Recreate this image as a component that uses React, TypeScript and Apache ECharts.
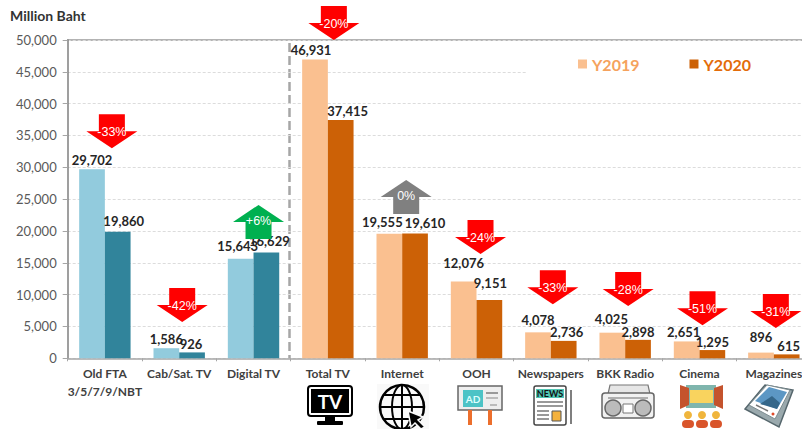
import React, { useEffect, useRef } from "react";
import * as echarts from "echarts";

const FONT = "Lato, 'Open Sans', sans-serif";
const categories = ["Old FTA\n3/5/7/9/NBT", "Cab/Sat. TV", "Digital TV", "Total TV", "Internet", "OOH", "Newspapers", "BKK Radio", "Cinema", "Magazines"];
const y2019 = [29702, 1586, 15643, 46931, 19555, 12076, 4078, 4025, 2651, 896];
const y2020 = [19860, 926, 16629, 37415, 19610, 9151, 2736, 2898, 1295, 615];
const changes = ["-33%", "-42%", "+6%", "-20%", "0%", "-24%", "-33%", "-28%", "-51%", "-31%"];
const arrowTips = [33000, 5700, 24100, 50000, 28000, 16400, 8500, 8200, 5200, 4750];
const arrowShiftX = [7, 3, 5, 6, 4, 4, 2, 3, 3, 2];
const labelShift2019 = [[0, 0], [0, 0], [-3, -3], [-4, 0], [-7, -2], [0, -9], [0, -3], [-1, -4], [-3, 0], [0, -6]];
const labelShift2020 = [[6, -1], [-1, 1], [3, -2], [7, 0], [10, -1], [1, -8], [3, 1], [0, 2], [0, 1], [2, 1]];
const blueLight = "#92cbdd";
const blueDark = "#31849b";
const orangeLight = "#fac090";
const orangeDark = "#cc6106";

const rect = (x: number, y: number, w: number, h: number, fill: string, extra: any = {}) => ({
  type: "rect", shape: { x, y, width: w, height: h, r: extra.r || 0 },
  style: { fill, stroke: extra.stroke, lineWidth: extra.lw || 0 }, silent: true,
});
const line = (x1: number, y1: number, x2: number, y2: number, stroke: string, lineWidth = 1, lineDash?: number[]) => ({
  type: "line", shape: { x1, y1, x2, y2 }, style: { stroke, lineWidth, lineDash }, silent: true,
});
const circle = (cx: number, cy: number, r: number, fill: string, stroke?: string, lineWidth = 0) => ({
  type: "circle", shape: { cx, cy, r }, style: { fill, stroke, lineWidth }, silent: true,
});
const poly = (points: number[][], fill: string, stroke?: string, lineWidth = 0) => ({
  type: "polygon", shape: { points }, style: { fill, stroke, lineWidth }, silent: true,
});
const label = (x: number, y: number, text: string, size: number, fill: string) => ({
  type: "text", x, y, silent: true,
  style: { text, fontSize: size, fontWeight: "bold", fontFamily: FONT, fill, align: "center", verticalAlign: "middle" },
});

const tvIcon = [
  rect(308, 386, 44, 30, "#fff", { stroke: "#000", lw: 2, r: 3 }),
  rect(311, 389, 38, 24, "#000"),
  label(330, 401, "TV", 19, "#fff"),
  rect(325, 417, 10, 4, "#000"),
  rect(317, 421, 26, 4, "#000", { r: 1 }),
];
const globeIcon = [
  rect(377, 384, 52, 45, "#f9f9f9"),
  circle(402, 407, 22, "none", "#000", 2.5),
  { type: "ellipse", shape: { cx: 402, cy: 407, rx: 10, ry: 22 }, style: { fill: "none", stroke: "#000", lineWidth: 2 }, silent: true },
  line(402, 385, 402, 429, "#000", 2),
  line(380, 407, 424, 407, "#000", 2),
  line(384, 395, 420, 395, "#000", 2),
  line(384, 419, 420, 419, "#000", 2),
  poly([[408, 411], [423, 417], [418, 420], [425, 427], [421, 429], [415, 423], [411, 427]], "#000", "#f9f9f9", 1.5),
];
const adIcon = [
  rect(458, 386, 44, 24, "#eeeeee", { stroke: "#666", lw: 1.5 }),
  rect(463, 390, 20, 17, "#4cc3c6"),
  label(473, 399, "AD", 10, "#dff"),
  line(486, 393, 498, 393, "#999", 2),
  line(486, 398, 498, 398, "#bbb", 2),
  line(490, 405, 497, 405, "#aaa", 1.5),
  rect(468, 410, 4, 15, "#ec6f2d"),
  rect(488, 410, 4, 15, "#ec6f2d"),
];
const newsIcon = [
  line(571, 390, 571, 424, "#555", 1.5),
  rect(534, 386, 32, 39, "#fff", { stroke: "#444", lw: 1.5, r: 2 }),
  rect(536, 389, 28, 9, "#52c6b4"),
  label(550, 393.5, "NEWS", 9, "#111"),
  line(537, 402, 563, 402, "#777", 1.5),
  line(537, 406, 563, 406, "#777", 1.5),
  line(537, 411, 549, 411, "#777", 1.5),
  line(537, 415, 549, 415, "#777", 1.5),
  line(537, 419, 549, 419, "#777", 1.5),
  rect(552, 411, 9, 10, "#f4b23e", { stroke: "#555", lw: 1 }),
];
const radioIcon = [
  poly([[608, 394], [610, 385], [648, 385], [650, 394]], "#e6e6e6", "#777", 1.2),
  rect(602, 393, 52, 25, "#f1f1f1", { stroke: "#666", lw: 1.5, r: 3 }),
  line(608, 398, 648, 398, "#999", 1.5),
  circle(613, 408, 8, "#bbb", "#666", 1.5),
  circle(643, 408, 8, "#bbb", "#666", 1.5),
  rect(623, 404, 10, 9, "#fff", { stroke: "#777", lw: 1 }),
];
const cinemaIcon = [
  rect(686, 385, 30, 23, "#7fb5ad"),
  rect(690, 390, 23, 13, "#f9d35e"),
  poly([[680, 385], [689, 388], [689, 405], [680, 409]], "#c4532d"),
  poly([[723, 385], [714, 388], [714, 405], [723, 409]], "#c4532d"),
  circle(688, 415, 4, "#f0b53c"),
  circle(702, 415, 4, "#f0b53c"),
  circle(716, 415, 4, "#f0b53c"),
  rect(682, 420, 12, 8, "#d9552b", { r: 4 }),
  rect(696, 420, 12, 8, "#d9552b", { r: 4 }),
  rect(710, 420, 12, 8, "#d9552b", { r: 4 }),
];
const magazineIcon = [
  poly([[745, 409], [765, 385], [793, 390], [779, 427]], "#9aa9ad", "#56676d", 1.5),
  poly([[749, 405], [767, 385], [790, 390], [775, 419]], "#ffffff", "#7d8c90", 1),
  poly([[755, 401], [769, 387], [787, 392], [777, 409]], "#5c97c4"),
  poly([[760, 404], [772, 396], [780, 403], [777, 409]], "#35678a"),
  line(756, 405, 768, 411, "#777", 1.5),
  circle(773, 414, 1.5, "#e04a2a"),
];

function App() {
  const ref = useRef<HTMLDivElement>(null);
  useEffect(() => {
    const chart = echarts.init(ref.current!, undefined, { renderer: "svg" });
    const makeLabel = (shifts: number[][]) => (i: number) => ({
      show: true, position: "top", distance: 3, offset: shifts[i],
      fontFamily: FONT, fontSize: 13, fontWeight: "bold", color: "#262626",
      formatter: (p: any) => Number(p.value).toLocaleString("en-US"),
    });
    const label19 = makeLabel(labelShift2019);
    const label20 = makeLabel(labelShift2020);
    chart.setOption({
      animation: false,
      backgroundColor: "#fff",
      title: {
        text: "Million Baht", left: 5, top: 3,
        textStyle: { fontFamily: FONT, fontSize: 14, fontWeight: "bold", color: "#333" },
      },
      grid: { left: 67.7, top: 40, width: 743.3, height: 318.3, containLabel: false },
      legend: {
        left: 526, top: 48,
        padding: [8, 50, 8, 52],
        itemGap: 50, itemWidth: 9, itemHeight: 9, icon: "rect",
        backgroundColor: "#fff",
        z: 3,
        textStyle: { fontFamily: FONT, fontSize: 16, fontWeight: "bold" },
        data: [
          { name: "Y2019", textStyle: { color: "#f5a25d" } },
          { name: "Y2020", textStyle: { color: "#e36c0a" } },
        ],
      },
      xAxis: {
        type: "category", data: categories,
        axisLine: { lineStyle: { color: "#a6a6a6", width: 1.5 } },
        axisTick: { show: true, alignWithLabel: false, length: 3, lineStyle: { color: "#a6a6a6" } },
        axisLabel: {
          interval: 0, margin: 6, lineHeight: 18, fontFamily: FONT, fontSize: 12,
          fontWeight: "bold", color: "#404040", verticalAlign: "top",
        },
      },
      yAxis: {
        type: "value", min: 0, max: 50000, interval: 5000,
        axisLine: { show: true, lineStyle: { color: "#7f7f7f", width: 1.5 } },
        axisTick: { show: true, length: 5, lineStyle: { color: "#a6a6a6" } },
        axisLabel: {
          margin: 11, fontFamily: FONT, fontSize: 13, color: "#595959",
          formatter: (v: number) => v.toLocaleString("en-US"),
        },
        splitLine: { lineStyle: { color: "#dcdcdc", type: [3, 2], width: 1 } },
      },
      series: [
        {
          name: "Y2019", type: "bar", barWidth: 25.7, barGap: 0, z: 2,
          itemStyle: { color: orangeLight },
          data: y2019.map((value, i) => ({
            value, label: label19(i),
            itemStyle: { color: i < 3 ? blueLight : orangeLight },
          })),
        },
        {
          name: "Y2020", type: "bar", barWidth: 25.7, barGap: 0, z: 2,
          itemStyle: { color: orangeDark },
          data: y2020.map((value, i) => ({
            value, label: label20(i),
            itemStyle: { color: i < 3 ? blueDark : orangeDark },
          })),
        },
        {
          type: "custom", z: 10, silent: true, clip: false,
          data: arrowTips.map((tip, i) => [i, tip]),
          renderItem: (params: any, api: any) => {
            const i = api.value(0);
            const p = api.coord([i, api.value(1)]);
            const x = p[0] + arrowShiftX[i];
            const tipY = p[1];
            const text = changes[i];
            const down = text[0] === "-";
            const dir = down ? -1 : 1;
            const fill = down ? "#ff0000" : text[0] === "+" ? "#00b050" : "#808080";
            return {
              type: "group",
              children: [
                {
                  type: "polygon",
                  shape: {
                    points: [
                      [x, tipY],
                      [x + 25.5, tipY + dir * 17],
                      [x + 13, tipY + dir * 17],
                      [x + 13, tipY + dir * 34],
                      [x - 13, tipY + dir * 34],
                      [x - 13, tipY + dir * 17],
                      [x - 25.5, tipY + dir * 17],
                    ],
                  },
                  style: { fill },
                },
                {
                  type: "text", x, y: tipY + dir * 16,
                  style: {
                    text, fill: "#ffffff", fontSize: 12.5,
                    fontFamily: "'Liberation Sans Narrow', 'Liberation Sans', sans-serif",
                    align: "center", verticalAlign: "middle",
                  },
                },
              ],
            };
          },
        },
      ],
      graphic: [
        line(67, 40, 811, 40, "#b3b3b3", 2),
        line(289.5, 43, 289.5, 358, "#a6a6a6", 2.5, [9, 4]),
        { type: "group", silent: true, children: tvIcon },
        { type: "group", silent: true, children: globeIcon },
        { type: "group", silent: true, children: adIcon },
        { type: "group", silent: true, children: newsIcon },
        { type: "group", silent: true, children: radioIcon },
        { type: "group", silent: true, children: cinemaIcon },
        { type: "group", silent: true, children: magazineIcon },
      ],
    });
    return () => chart.dispose();
  }, []);
  return (
    <div style={{ position: "absolute", left: 0, top: 0, width: 802, height: 429, overflow: "hidden" }}>
      <div ref={ref} style={{ width: 840, height: 429 }} />
    </div>
  );
}

export default App;
